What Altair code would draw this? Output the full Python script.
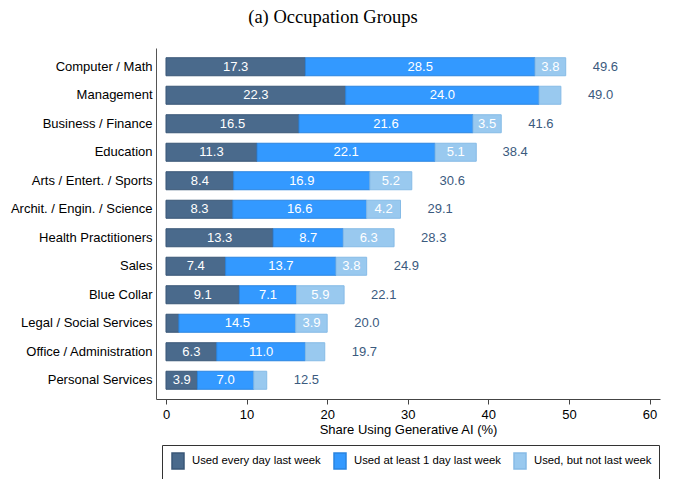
import altair as alt
import pandas as pd

categories = [
    "Computer / Math", "Management", "Business / Finance", "Education",
    "Arts / Entert. / Sports", "Archit. / Engin. / Science", "Health Practitioners",
    "Sales", "Blue Collar", "Legal / Social Services", "Office / Administration",
    "Personal Services",
]
daily = [17.3, 22.3, 16.5, 11.3, 8.4, 8.3, 13.3, 7.4, 9.1, 1.6, 6.3, 3.9]
weekly = [28.5, 24.0, 21.6, 22.1, 16.9, 16.6, 8.7, 13.7, 7.1, 14.5, 11.0, 7.0]
not_last = [3.8, 2.7, 3.5, 5.1, 5.2, 4.2, 6.3, 3.8, 5.9, 3.9, 2.4, 1.6]
totals = [49.6, 49.0, 41.6, 38.4, 30.6, 29.1, 28.3, 24.9, 22.1, 20.0, 19.7, 12.5]

series_names = ["Used every day last week", "Used at least 1 day last week", "Used, but not last week"]
fill_colors = ["#4a6a8c", "#3399ff", "#99c9ef"]
stroke_colors = ["#3a5777", "#2a84e0", "#86bbe6"]
x_ticks = [0, 10, 20, 30, 40, 50, 60]

rows = []
for i, c in enumerate(categories):
    start = 0.0
    for s, vals in zip(series_names, [daily, weekly, not_last]):
        v = vals[i]
        rows.append(dict(cat=c, series=s, value=v, start=start, end=start + v,
                         mid=start + v / 2, label=(f"{v:.1f}" if v >= 3 else "")))
        start += v
seg = pd.DataFrame(rows)
tot = pd.DataFrame({"cat": categories, "total": totals, "label": [f"{t:.1f}" for t in totals]})

FONT = "Liberation Sans"

xscale = alt.Scale(domain=[-1.24, 61.3], nice=False, zero=False)
y_enc = alt.Y(
    "cat:N", sort=categories,
    scale=alt.Scale(paddingInner=0.368, paddingOuter=0.342),
    axis=alt.Axis(title=None, ticks=False, labelPadding=4, labelFontSize=13,
                  labelFont=FONT, labelColor="black", domainColor="#555", labelLimit=300),
)

bars = alt.Chart(seg).mark_bar(strokeWidth=1).encode(
    x=alt.X("start:Q", scale=xscale,
            axis=alt.Axis(values=x_ticks, title="Share Using Generative AI (%)", grid=False,
                          tickSize=5, labelFontSize=13, labelFont=FONT, labelColor="black",
                          titleFont=FONT, titleFontSize=13, titleFontWeight="normal",
                          titleColor="black", labelPadding=4, titlePadding=2,
                          domainColor="#444", tickColor="#444")),
    x2="end:Q",
    y=y_enc,
    fill=alt.Fill("series:N", scale=alt.Scale(domain=series_names, range=fill_colors),
                  legend=alt.Legend(title=None, orient="none", legendX=6, legendY=397,
                                    direction="horizontal", strokeColor="#333", padding=7,
                                    symbolType="M-0.75,-1H0.75V1H-0.75Z", symbolSize=256,
                                    labelFontSize=11.3, labelFont=FONT, labelColor="black",
                                    labelOffset=5, columnPadding=10, symbolOpacity=1)),
    stroke=alt.Stroke("series:N", scale=alt.Scale(domain=series_names, range=stroke_colors),
                      legend=None),
    order=alt.Order("start:Q"),
)

seg_labels = alt.Chart(seg).mark_text(
    color="white", fontSize=13, font=FONT, align="center", baseline="middle"
).encode(
    x=alt.X("mid:Q", scale=xscale),
    y=alt.Y("cat:N", sort=categories),
    text="label:N",
)

tot_labels = alt.Chart(tot).mark_text(
    color="#3b5a7e", fontSize=13, font=FONT, align="left", baseline="middle", dx=27
).encode(
    x=alt.X("total:Q", scale=xscale),
    y=alt.Y("cat:N", sort=categories),
    text="label:N",
)

chart = alt.layer(bars, seg_labels, tot_labels).properties(
    width=504, height=351,
    autosize=alt.AutoSizeParams(type="none"),
    padding={"left": 148, "top": 40, "right": 12, "bottom": 80},
    title=alt.Title("(a) Occupation Groups", font="Liberation Serif", fontSize=18.5,
                    fontWeight="normal", color="black", anchor="middle", dx=-75, offset=22),
).configure_view(stroke=None).configure_axis(grid=False)

chart.save("out.html", embed_options={"renderer": "svg", "actions": False})
